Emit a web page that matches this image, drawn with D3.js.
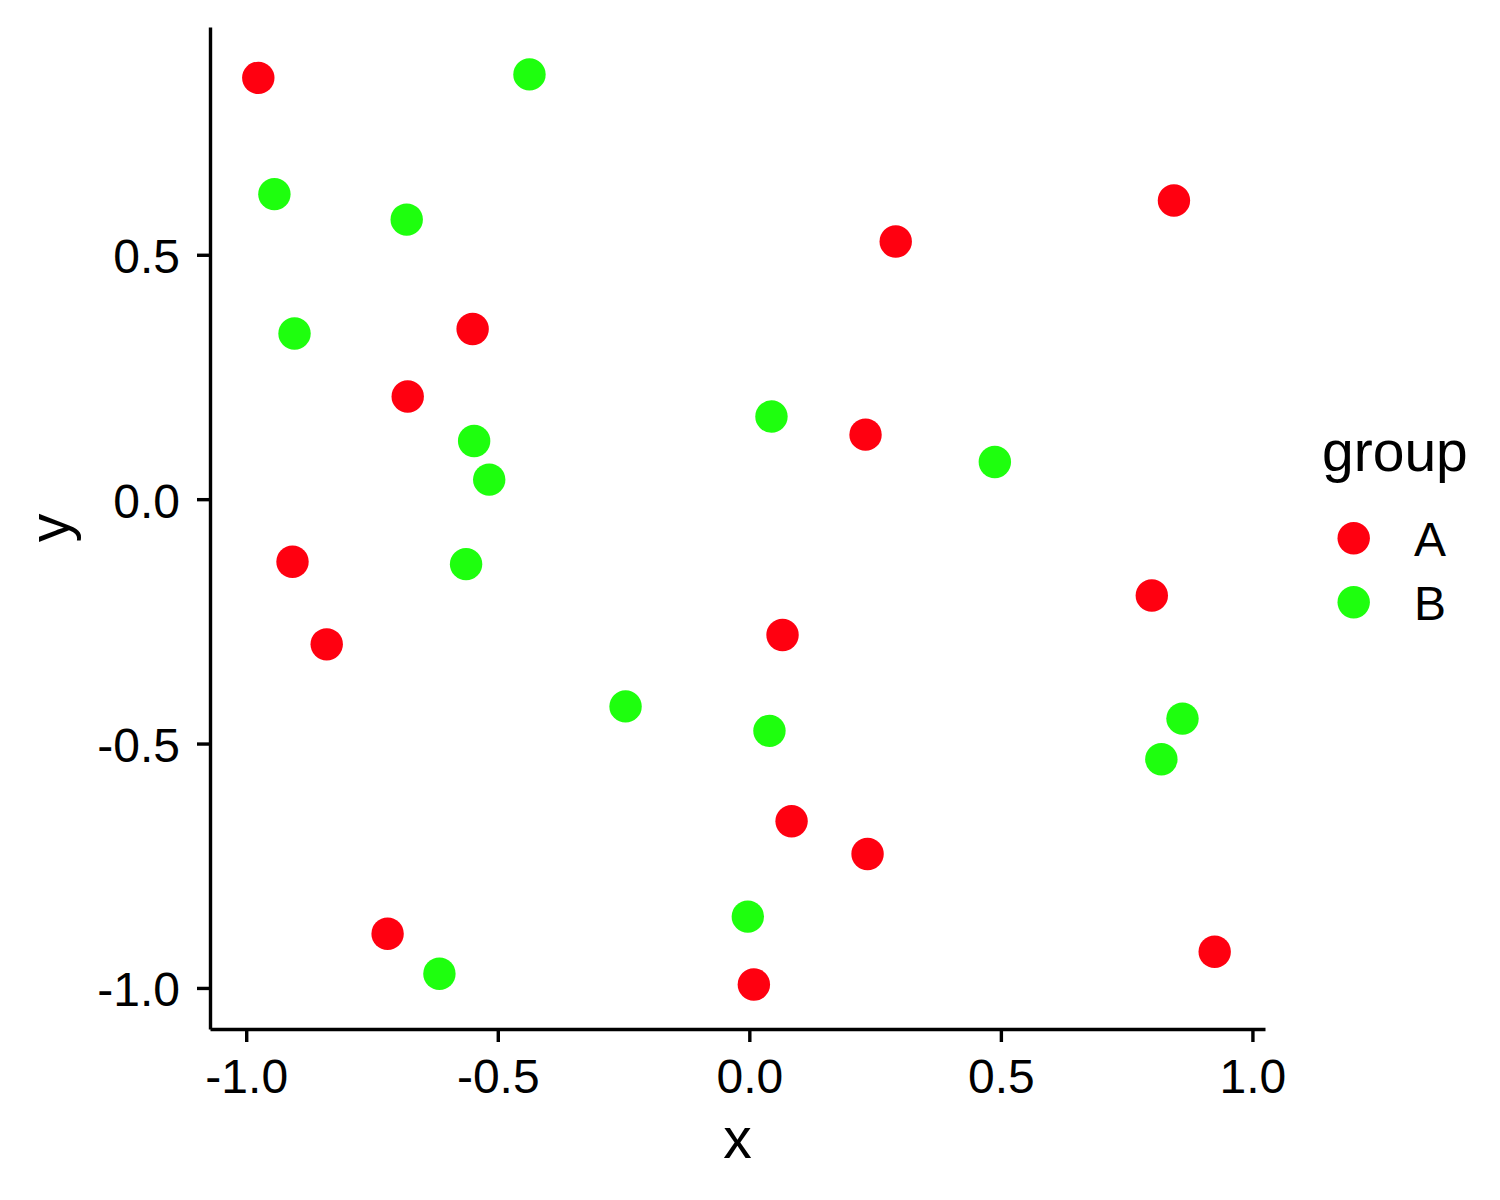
<!DOCTYPE html>
<html>
<head>
<meta charset="utf-8">
<script src="https://cdn.jsdelivr.net/npm/d3@7"></script>
<style>
  body { margin: 0; background: #fff; }
  svg text { font-family: "Liberation Sans", Arial, sans-serif; fill: #000; }
</style>
</head>
<body>
<svg id="chart" width="1500" height="1200"></svg>
<script>
// data
var groups = ["A", "B"];
var groupColors = ["#ff0010", "#1eff0e"];

var xA = [-0.976, 0.844, 0.291, -0.550, -0.679, 0.231, -0.908, 0.800, -0.840, 0.066, 0.084, 0.235, -0.719, 0.009, 0.925];
var yA = [0.862, 0.611, 0.527, 0.348, 0.210, 0.132, -0.128, -0.197, -0.297, -0.278, -0.659, -0.726, -0.889, -0.993, -0.926];

var xB = [-0.437, -0.944, -0.681, -0.904, 0.044, -0.547, -0.517, 0.488, -0.563, -0.246, 0.040, 0.861, 0.819, -0.003, -0.616];
var yB = [0.869, 0.624, 0.572, 0.339, 0.169, 0.119, 0.040, 0.076, -0.133, -0.424, -0.474, -0.449, -0.532, -0.854, -0.971];

var xTicks = [-1.0, -0.5, 0.0, 0.5, 1.0];
var yTicks = [-1.0, -0.5, 0.0, 0.5];

var svg = d3.select("#chart");

// panel edges
var pLeft = 210, pRight = 1265, pTop = 27, pBottom = 1029;

var x = d3.scaleLinear().domain([-1.072, 1.025]).range([pLeft, pRight]);
var y = d3.scaleLinear().domain([-1.084, 0.966]).range([pBottom, pTop]);
var color = d3.scaleOrdinal().domain(groups).range(groupColors);

var points = [];
xA.forEach(function(v, i) { points.push({x: v, y: yA[i], g: "A"}); });
xB.forEach(function(v, i) { points.push({x: v, y: yB[i], g: "B"}); });

var fmt = function(d) { return d.toFixed(1); };

// x axis
var gx = svg.append("g")
    .attr("transform", "translate(0," + pBottom + ")")
    .call(d3.axisBottom(x).tickValues(xTicks).tickFormat(fmt).tickSize(13).tickSizeOuter(0));
gx.select(".domain").attr("stroke", "#000").attr("stroke-width", 3.4);
gx.selectAll(".tick line").attr("stroke", "#000").attr("stroke-width", 3.4);
gx.selectAll(".tick text")
    .attr("y", 64).attr("dy", null)
    .attr("font-size", 48)
    .style("font-family", "'Liberation Sans', Arial, sans-serif")
    .attr("fill", "#000");

// y axis
var gy = svg.append("g")
    .attr("transform", "translate(" + pLeft + ",0)")
    .call(d3.axisLeft(y).tickValues(yTicks).tickFormat(fmt).tickSize(13).tickSizeOuter(0));
gy.select(".domain").attr("stroke", "#000").attr("stroke-width", 3.4);
gy.selectAll(".tick line").attr("stroke", "#000").attr("stroke-width", 3.4);
gy.selectAll(".tick text")
    .attr("x", -30).attr("dy", 18)
    .attr("font-size", 48)
    .style("font-family", "'Liberation Sans', Arial, sans-serif")
    .attr("fill", "#000");

// points
svg.append("g")
  .selectAll("circle")
  .data(points)
  .enter().append("circle")
    .attr("cx", function(d) { return x(d.x); })
    .attr("cy", function(d) { return y(d.y); })
    .attr("r", 16.2)
    .attr("fill", function(d) { return color(d.g); });

// axis titles
svg.append("text")
    .attr("x", (pLeft + pRight) / 2)
    .attr("y", 1158)
    .attr("text-anchor", "middle")
    .attr("font-size", 57)
    .text("x");

svg.append("text")
    .attr("transform", "translate(69," + (pTop + pBottom) / 2 + ") rotate(-90)")
    .attr("text-anchor", "middle")
    .attr("font-size", 57)
    .text("y");

// legend
var legend = svg.append("g");
legend.append("text")
    .attr("x", 1322)
    .attr("y", 471)
    .attr("font-size", 57)
    .text("group");

var items = legend.selectAll(".item")
    .data(groups)
  .enter().append("g")
    .attr("class", "item")
    .attr("transform", function(d, i) { return "translate(0," + (538.3 + i * 64) + ")"; });

items.append("circle")
    .attr("cx", 1353.7)
    .attr("cy", 0)
    .attr("r", 16.2)
    .attr("fill", function(d) { return color(d); });

items.append("text")
    .attr("x", 1414)
    .attr("y", 18)
    .attr("font-size", 48)
    .text(function(d) { return d; });
</script>
</body>
</html>
